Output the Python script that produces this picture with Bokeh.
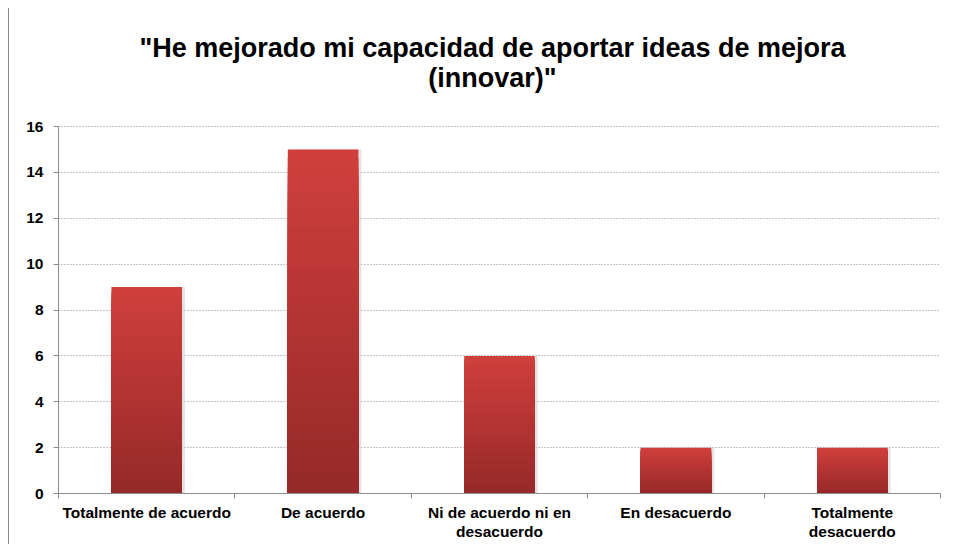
from bokeh.plotting import figure
from bokeh.models import FixedTicker, LinearAxis, Range1d, ColumnDataSource, Label, Grid
from bokeh.embed import file_html
from bokeh.resources import INLINE

title_lines = ['"He mejorado mi capacidad de aportar ideas de mejora', '(innovar)"']
categories = ["Totalmente de acuerdo", "De acuerdo", "Ni de acuerdo ni en\ndesacuerdo",
              "En desacuerdo", "Totalmente\ndesacuerdo"]
values = [9, 15, 6, 2, 2]
y_ticks = [0, 2, 4, 6, 8, 10, 12, 14, 16]

FONT = "Liberation Sans"
top_rgb = (0xD1, 0x40, 0x3D)
bot_rgb = (0x96, 0x29, 0x29)
NSEG = 40

W, H = 936, 536
BORDER_BOTTOM = 51
TOP_PAD = 118            # pixels of the frame kept above the value axis for the title
FRAME_H = H - BORDER_BOTTOM
y_top = y_ticks[-1]
y_end = y_top * FRAME_H / (FRAME_H - TOP_PAD)

p = figure(width=W, height=H, output_backend="svg", toolbar_location=None,
           x_range=Range1d(0, len(categories)), y_range=Range1d(0, y_end),
           x_axis_type=None, y_axis_type=None,
           min_border_left=49, min_border_right=5, min_border_top=0,
           min_border_bottom=BORDER_BOTTOM)
p.outline_line_color = None
p.styles = {"border-left": "1px solid #8c8c8c", "margin-left": "8px", "margin-top": "8px"}

# title: two centred lines placed above the value axis
for txt, off in [(title_lines[0], 79), (title_lines[1], 49)]:
    p.add_layout(Label(x=len(categories) / 2, y=y_top, x_offset=-7, y_offset=off,
                       text=txt, text_align="center", text_baseline="alphabetic",
                       text_font=FONT, text_font_size="27px", text_font_style="bold",
                       text_color="#000000"))

# gradient bars: overlapping bars from each value, lighter at the top
xs, tops, cols = [], [], []
for k in range(NSEG):
    f = (NSEG - k - 0.5) / NSEG
    r = int(bot_rgb[0] + (top_rgb[0] - bot_rgb[0]) * f)
    g = int(bot_rgb[1] + (top_rgb[1] - bot_rgb[1]) * f)
    b = int(bot_rgb[2] + (top_rgb[2] - bot_rgb[2]) * f)
    for i, v in enumerate(values):
        xs.append(i + 0.5)
        tops.append(v * (NSEG - k) / NSEG)
        cols.append("#%02x%02x%02x" % (r, g, b))
src = ColumnDataSource(dict(x=xs, top=tops, color=cols))
sh = ColumnDataSource(dict(x=[i + 0.5 + 0.012 for i in range(len(values))], top=values))
p.vbar(x="x", top="top", bottom=0, width=0.41, source=sh, fill_color="#d0d0d0",
       line_color=None, fill_alpha=0.6)
p.vbar(x="x", top="top", bottom=0, width=0.4, source=src, fill_color="color",
       line_color=None)

# y axis
yax = LinearAxis(ticker=FixedTicker(ticks=y_ticks), bounds=(y_ticks[0], y_top))
yax.axis_line_color = "#8c8c8c"
yax.major_tick_line_color = "#8c8c8c"
yax.major_tick_out = 5
yax.major_tick_in = 0
yax.minor_tick_line_color = None
yax.major_label_text_font = FONT
yax.major_label_text_font_size = "15.5px"
yax.major_label_text_font_style = "bold"
yax.major_label_text_color = "#000000"
yax.major_label_standoff = 10
p.add_layout(yax, "left")

# x axis: labels at centres, ticks at category boundaries
centers = [i + 0.5 for i in range(len(categories))]
bounds = list(range(len(categories) + 1))
xax = LinearAxis(ticker=FixedTicker(ticks=centers, minor_ticks=bounds))
xax.major_label_overrides = {c: lab for c, lab in zip(centers, categories)}
xax.axis_line_color = "#8c8c8c"
xax.major_tick_line_color = None
xax.minor_tick_line_color = "#8c8c8c"
xax.minor_tick_out = 5
xax.minor_tick_in = 0
xax.major_label_text_font = FONT
xax.major_label_text_font_size = "15.5px"
xax.major_label_text_font_style = "bold"
xax.major_label_text_color = "#000000"
xax.major_label_standoff = 4
xax.major_label_text_line_height = 1.15
p.add_layout(xax, "below")

grid = Grid(dimension=1, ticker=yax.ticker)
grid.grid_line_color = "#8a8a8a"
grid.grid_line_dash = "1 2"
grid.grid_line_width = 1
p.add_layout(grid)

open("out.html", "w").write(file_html(p, INLINE))
